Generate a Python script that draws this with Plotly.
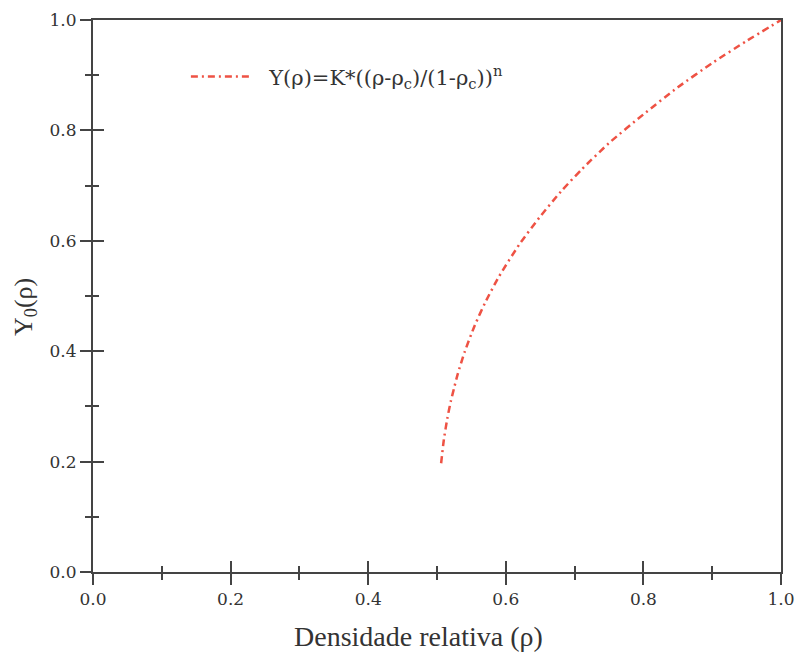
import plotly.graph_objects as go

# Data
rho = [0.506, 0.510, 0.515, 0.520, 0.525, 0.530, 0.540, 0.555, 0.570, 0.590,
       0.620, 0.650, 0.680, 0.710, 0.750, 0.800, 0.850, 0.900, 0.950, 1.000]
y0 = [0.197, 0.240, 0.278, 0.309, 0.334, 0.358, 0.398, 0.447, 0.488, 0.535,
      0.594, 0.644, 0.689, 0.729, 0.777, 0.829, 0.878, 0.922, 0.962, 1.000]

series_name = "\u00a0\u00a0Y(ρ)=K*((ρ-ρ<sub>c</sub>)/(1-ρ<sub>c</sub>))<sup>n</sup>"
x_title = "Densidade relativa (ρ)"
y_title = "Y<sub>0</sub>(ρ)"
tick_vals = [0.0, 0.2, 0.4, 0.6, 0.8, 1.0]
tick_text = ["0.0", "0.2", "0.4", "0.6", "0.8", "1.0"]

line_color = "#ee5244"
axis_color = "#444444"
text_color = "#333333"

fig = go.Figure()
fig.add_trace(go.Scatter(
    x=rho, y=y0, mode="lines", name=series_name,
    line=dict(color=line_color, width=2.5, dash="7px,4px,2px,4px",
              shape="spline", smoothing=0.6),
))
# invisible companion trace for the overlay axes (inside ticks)
fig.add_trace(go.Scatter(
    x=rho, y=y0, mode="lines", xaxis="x2", yaxis="y2", showlegend=False,
    line=dict(width=0), hoverinfo="skip", opacity=0,
))

tickfont = dict(family="DejaVu Serif", size=17, color=text_color)
common = dict(range=[0, 1], tickvals=tick_vals, showgrid=False, zeroline=False,
              linecolor=axis_color, linewidth=2, tickcolor=axis_color, tickwidth=2,
              automargin=False)
minor_out = dict(dtick=0.1, ticks="outside", ticklen=6, tickwidth=2, tickcolor=axis_color)
minor_in = dict(dtick=0.1, ticks="inside", ticklen=6, tickwidth=2, tickcolor=axis_color)

fig.update_layout(
    width=798, height=661,
    margin=dict(l=93, r=17, t=20, b=89, autoexpand=False),
    paper_bgcolor="white", plot_bgcolor="white",
    showlegend=True,
    legend=dict(x=0.135, y=0.897, xanchor="left", yanchor="middle",
                bgcolor="rgba(0,0,0,0)", itemwidth=60,
                font=dict(family="DejaVu Serif", size=21, color=text_color)),
    xaxis=dict(**common, ticktext=tick_text, ticks="outside", ticklen=11,
               mirror=True, tickfont=tickfont, minor=minor_out),
    yaxis=dict(**common, ticktext=tick_text, ticks="outside", ticklen=11,
               mirror=True, tickfont=tickfont, minor=minor_out),
    xaxis2=dict(**common, overlaying="x", ticks="inside", ticklen=11,
                showticklabels=False, minor=minor_in),
    yaxis2=dict(**common, overlaying="y", ticks="inside", ticklen=11,
                showticklabels=False, minor=minor_in),
    annotations=[
        dict(text=x_title, xref="paper", yref="paper", x=0.473, y=-0.116,
             xanchor="center", yanchor="middle", showarrow=False,
             font=dict(family="Liberation Serif", size=28, color=text_color)),
        dict(text=y_title, xref="paper", yref="paper", x=-0.099, y=0.48,
             xanchor="center", yanchor="middle", showarrow=False, textangle=-90,
             font=dict(family="Liberation Serif", size=26, color=text_color)),
    ],
)

fig.write_html("out.html")
